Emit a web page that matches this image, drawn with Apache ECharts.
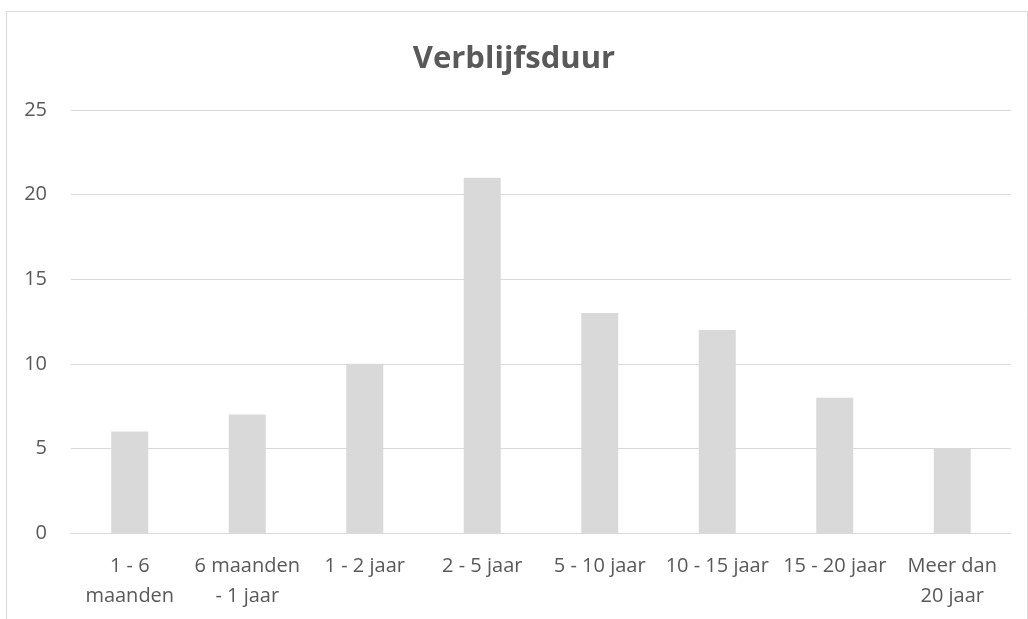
<!DOCTYPE html>
<html><head><meta charset="utf-8">
<script src="https://cdn.jsdelivr.net/npm/echarts@6/dist/echarts.min.js"></script>
<style>html,body{margin:0;padding:0;background:#fff}#c{width:1028px;height:619px}</style>
</head><body><div id="c"></div>
<script>
var categories = ["1 - 6\nmaanden", "6 maanden\n- 1 jaar", "1 - 2 jaar", "2 - 5 jaar", "5 - 10 jaar", "10 - 15 jaar", "15 - 20 jaar", "Meer dan\n20 jaar"];
var values = [6, 7, 10, 21, 13, 12, 8, 5];
var yTicks = { min: 0, max: 25, interval: 5 };
var title = "Verblijfsduur";

var chart = echarts.init(document.getElementById('c'), null, { renderer: 'canvas' });
var font = "'Open Sans', sans-serif";
chart.setOption({
  animation: false,
  backgroundColor: '#ffffff',
  graphic: [{
    type: 'rect', silent: true,
    shape: { x: 6.5, y: 11.5, width: 1021, height: 700 },
    style: { fill: 'none', stroke: '#D9D9D9', lineWidth: 1 }
  }],
  title: {
    text: title, left: 'center', top: 39,
    textStyle: { fontFamily: font, fontSize: 31, fontWeight: 'bold', color: '#595959' }
  },
  grid: { left: 71, right: 17, top: 110, bottom: 86, containLabel: false },
  xAxis: {
    type: 'category', data: categories,
    axisLine: { lineStyle: { color: '#D9D9D9', width: 1 } },
    axisTick: { show: false },
    axisLabel: { interval: 0, color: '#595959', fontFamily: font, fontSize: 20, lineHeight: 30, margin: 18 }
  },
  yAxis: {
    type: 'value', min: yTicks.min, max: yTicks.max, interval: yTicks.interval,
    axisLine: { show: false }, axisTick: { show: false },
    splitLine: { lineStyle: { color: '#D9D9D9', width: 1 } },
    axisLabel: { color: '#595959', fontFamily: font, fontSize: 20, margin: 24 }
  },
  series: [{
    type: 'bar', data: values, barWidth: '31.5%',
    itemStyle: { color: '#D9D9D9' }
  }]
});
</script></body></html>
